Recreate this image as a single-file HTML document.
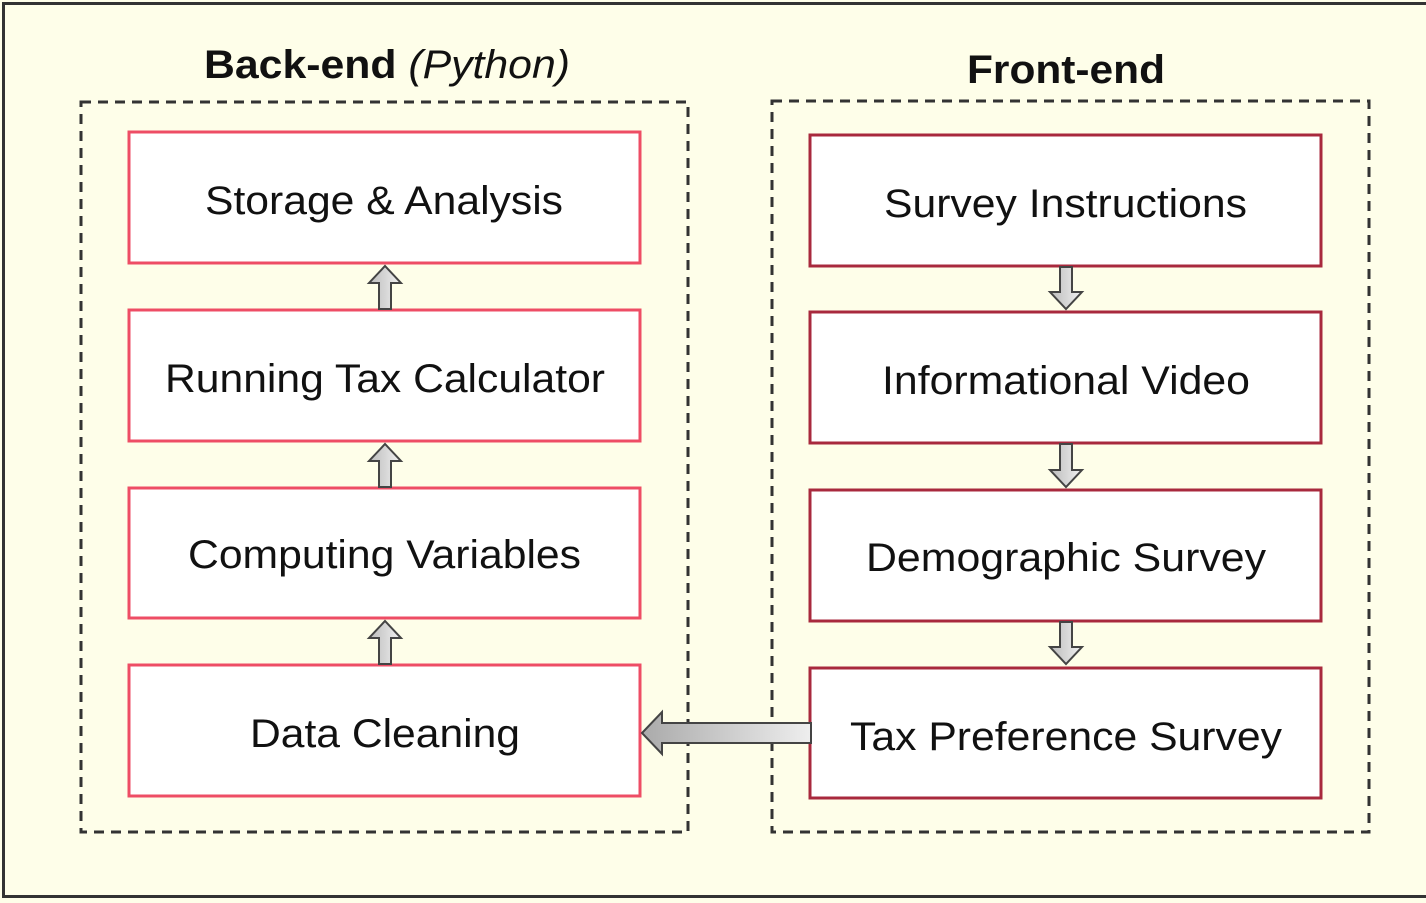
<!DOCTYPE html>
<html><head><style>
html,body{margin:0;padding:0;background:#fff;}
svg{display:block;}
text{font-family:"Liberation Sans",sans-serif;fill:#111;}
</style></head><body>
<svg width="1426" height="903" viewBox="0 0 1426 903" xmlns="http://www.w3.org/2000/svg">
<defs>
<linearGradient id="g" x1="0" x2="1" y1="0" y2="0"><stop offset="0" stop-color="#aaa"/><stop offset="1" stop-color="#eee"/></linearGradient>
<linearGradient id="gv" x1="0" x2="1" y1="0" y2="0"><stop offset="0" stop-color="#bbb"/><stop offset="1" stop-color="#f0f0f0"/></linearGradient>
</defs>
<rect x="0" y="0" width="1426" height="903" fill="#fefee9"/>
<rect x="3.5" y="3.5" width="1430" height="893" fill="none" stroke="#333" stroke-width="3"/>
<text x="204" y="78" font-size="40" font-weight="bold" textLength="366" lengthAdjust="spacingAndGlyphs">Back-end <tspan font-weight="normal" font-style="italic">(Python)</tspan></text>
<text x="967" y="83" font-size="40" font-weight="bold" textLength="198" lengthAdjust="spacingAndGlyphs">Front-end</text>
<rect x="81" y="102" width="607" height="730" fill="none" stroke="#333" stroke-width="3" stroke-dasharray="10,7"/>
<rect x="772" y="101" width="597" height="731" fill="none" stroke="#333" stroke-width="3" stroke-dasharray="10,7"/>
<g fill="#fff" stroke="#ee4d65" stroke-width="3">
<rect x="129" y="132" width="511" height="131"/>
<rect x="129" y="310" width="511" height="131"/>
<rect x="129" y="488" width="511" height="130"/>
<rect x="129" y="665" width="511" height="131"/>
</g>
<g fill="#fff" stroke="#a8293d" stroke-width="3">
<rect x="810" y="135" width="511" height="131"/>
<rect x="810" y="312" width="511" height="131"/>
<rect x="810" y="490" width="511" height="131"/>
<rect x="810" y="668" width="511" height="130"/>
</g>
<g font-size="40" lengthAdjust="spacingAndGlyphs">
<text x="205" y="214" textLength="358" lengthAdjust="spacingAndGlyphs">Storage &amp; Analysis</text>
<text x="165" y="392" textLength="440" lengthAdjust="spacingAndGlyphs">Running Tax Calculator</text>
<text x="188" y="568" textLength="393" lengthAdjust="spacingAndGlyphs">Computing Variables</text>
<text x="250" y="747" textLength="270" lengthAdjust="spacingAndGlyphs">Data Cleaning</text>
<text x="884" y="217" textLength="363" lengthAdjust="spacingAndGlyphs">Survey Instructions</text>
<text x="882" y="394" textLength="368" lengthAdjust="spacingAndGlyphs">Informational Video</text>
<text x="866" y="571" textLength="400" lengthAdjust="spacingAndGlyphs">Demographic Survey</text>
<text x="850" y="750" textLength="432" lengthAdjust="spacingAndGlyphs">Tax Preference Survey</text>
</g>
<g fill="url(#gv)" stroke="#444" stroke-width="2">
<path d="M379,309 L379,283 L369,283 L385,266 L401,283 L391,283 L391,309 Z"/>
<path d="M379,487 L379,461 L369,461 L385,444 L401,461 L391,461 L391,487 Z"/>
<path d="M379,664 L379,638 L369,638 L385,621 L401,638 L391,638 L391,664 Z"/>
<path d="M1060,267 L1060,292 L1050,292 L1066,309 L1082,292 L1072,292 L1072,267 Z"/>
<path d="M1060,444 L1060,470 L1050,470 L1066,487 L1082,470 L1072,470 L1072,444 Z"/>
<path d="M1060,622 L1060,647 L1050,647 L1066,664 L1082,647 L1072,647 L1072,622 Z"/>
</g>
<path d="M811,723 L662,723 L662,712 L642,733 L662,754 L662,743 L811,743 Z" fill="url(#g)" stroke="#444" stroke-width="2"/>
</svg>
</body></html>
